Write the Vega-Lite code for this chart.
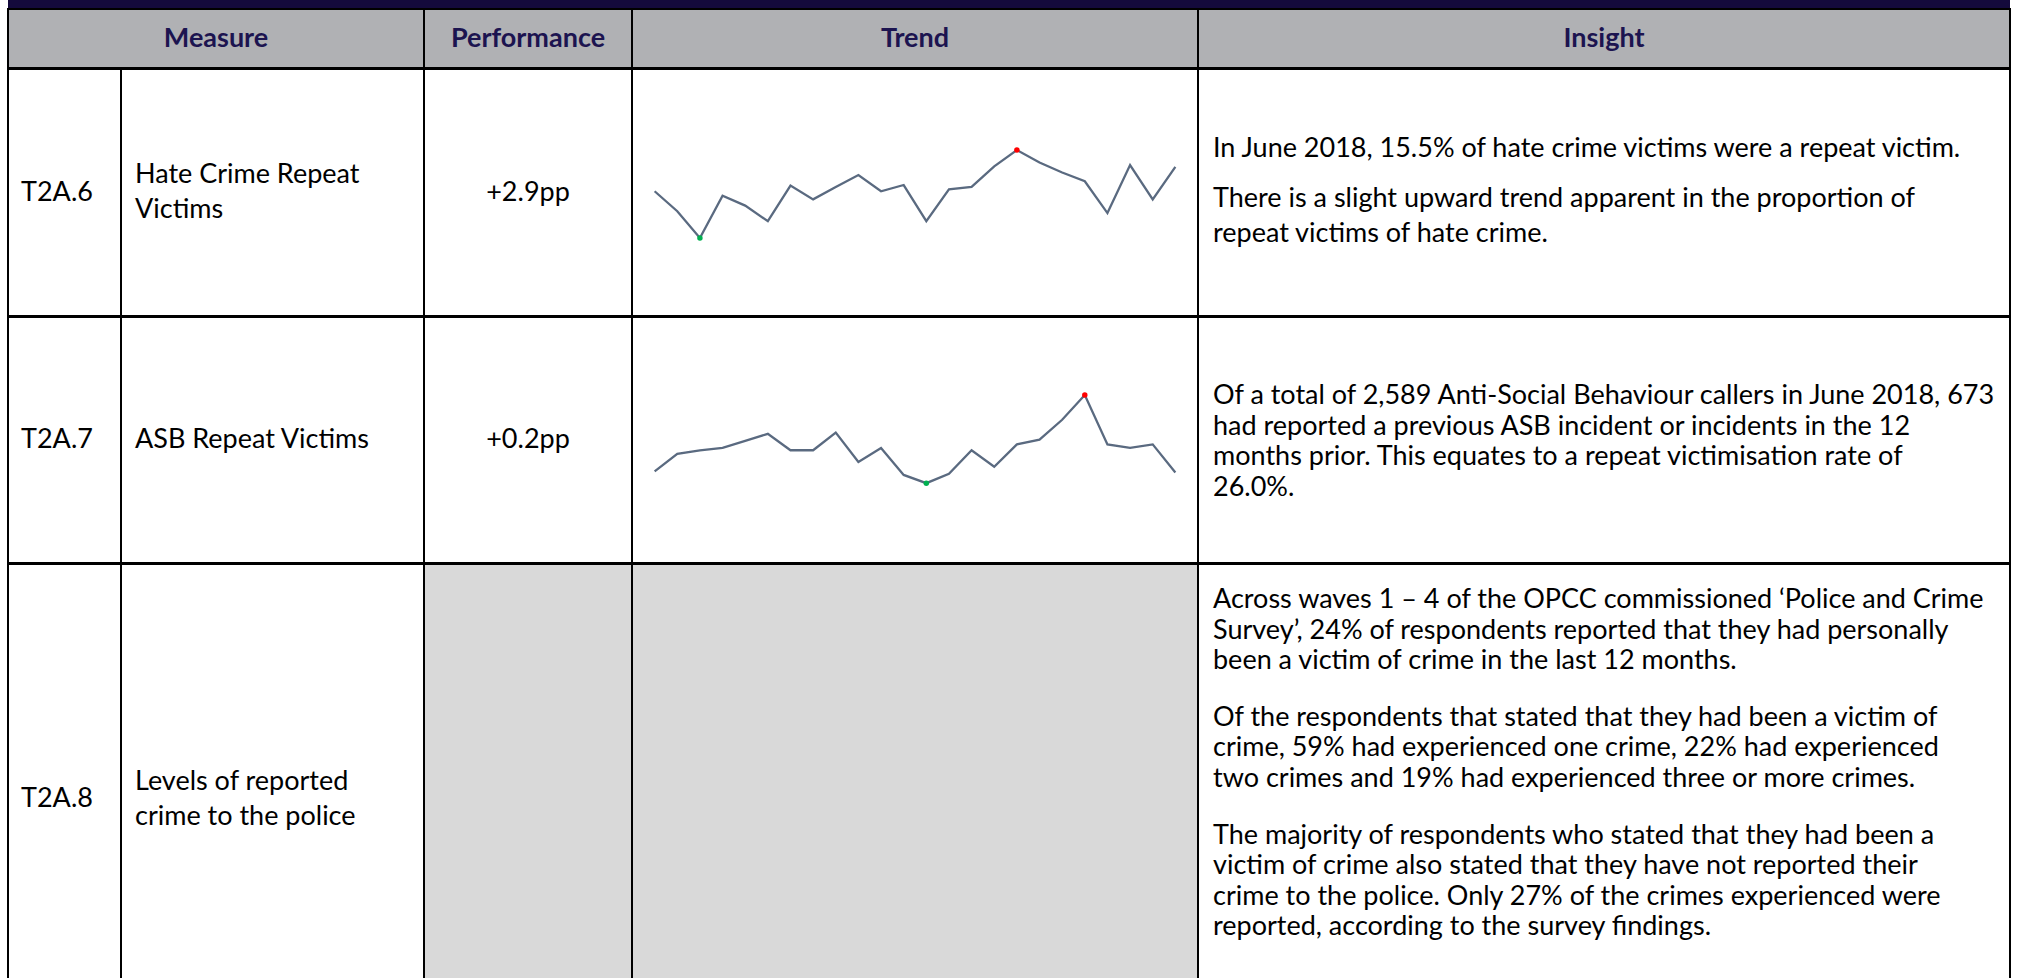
{
  "$schema": "https://vega.github.io/schema/vega-lite/v6.json",
  "background": "#ffffff",
  "padding": {"left": 7, "right": 11, "top": 0, "bottom": -53},
  "columns": 1,
  "spacing": -4,
  "align": "each",
  "config": {
    "view": {"stroke": "#000000", "strokeWidth": 2},
    "text": {"font": "Lato", "fontSize": 27, "color": "#000000"}
  },
  "datasets": {
    "hate": [
      {"month": "2016-07", "v": 11.6}, {"month": "2016-08", "v": 8.4}, {"month": "2016-09", "v": 4.1},
      {"month": "2016-10", "v": 10.9}, {"month": "2016-11", "v": 9.3}, {"month": "2016-12", "v": 6.8},
      {"month": "2017-01", "v": 12.5}, {"month": "2017-02", "v": 10.3}, {"month": "2017-03", "v": 12.3},
      {"month": "2017-04", "v": 14.2}, {"month": "2017-05", "v": 11.6}, {"month": "2017-06", "v": 12.6},
      {"month": "2017-07", "v": 6.8}, {"month": "2017-08", "v": 11.9}, {"month": "2017-09", "v": 12.3},
      {"month": "2017-10", "v": 15.6}, {"month": "2017-11", "v": 18.2}, {"month": "2017-12", "v": 16.2},
      {"month": "2018-01", "v": 14.6}, {"month": "2018-02", "v": 13.2}, {"month": "2018-03", "v": 8.1},
      {"month": "2018-04", "v": 15.8}, {"month": "2018-05", "v": 10.3}, {"month": "2018-06", "v": 15.5}
    ],
    "asb": [
      {"month": "2016-07", "v": 26.1}, {"month": "2016-08", "v": 27.6}, {"month": "2016-09", "v": 27.9},
      {"month": "2016-10", "v": 28.1}, {"month": "2016-11", "v": 28.7}, {"month": "2016-12", "v": 29.3},
      {"month": "2017-01", "v": 27.9}, {"month": "2017-02", "v": 27.9}, {"month": "2017-03", "v": 29.4},
      {"month": "2017-04", "v": 26.9}, {"month": "2017-05", "v": 28.1}, {"month": "2017-06", "v": 25.8},
      {"month": "2017-07", "v": 25.1}, {"month": "2017-08", "v": 25.9}, {"month": "2017-09", "v": 27.9},
      {"month": "2017-10", "v": 26.5}, {"month": "2017-11", "v": 28.4}, {"month": "2017-12", "v": 28.8},
      {"month": "2018-01", "v": 30.5}, {"month": "2018-02", "v": 32.6}, {"month": "2018-03", "v": 28.4},
      {"month": "2018-04", "v": 28.1}, {"month": "2018-05", "v": 28.4}, {"month": "2018-06", "v": 26.0}
    ]
  },
  "concat": [
    {"width": 2002, "height": 9, "view": {"fill": "#140a3c", "stroke": null}, "data": {"values": [{"t": ""}]},
     "mark": {"type": "text", "fontSize": 1, "baseline": "top"}, "encoding": {"text": {"field": "t", "type": "nominal"}}},
    {
      "spacing": 0, "bounds": "flush",
      "hconcat": [
        {"width": 416, "height": 59, "view": {"fill": "#b0b1b4", "stroke": "#000000", "strokeWidth": 2}, "data": {"values": [{"h": "Measure"}]},
         "mark": {"type": "text", "fontWeight": "bold", "color": "#1c1450", "baseline": "middle"},
         "encoding": {"text": {"field": "h", "type": "nominal"}}},
        {"width": 208, "height": 59, "view": {"fill": "#b0b1b4", "stroke": "#000000", "strokeWidth": 2}, "data": {"values": [{"h": "Performance"}]},
         "mark": {"type": "text", "fontWeight": "bold", "color": "#1c1450", "baseline": "middle"},
         "encoding": {"text": {"field": "h", "type": "nominal"}}},
        {"width": 566, "height": 59, "view": {"fill": "#b0b1b4", "stroke": "#000000", "strokeWidth": 2}, "data": {"values": [{"h": "Trend"}]},
         "mark": {"type": "text", "fontWeight": "bold", "color": "#1c1450", "baseline": "middle"},
         "encoding": {"text": {"field": "h", "type": "nominal"}}},
        {"width": 812, "height": 59, "view": {"fill": "#b0b1b4", "stroke": "#000000", "strokeWidth": 2}, "data": {"values": [{"h": "Insight"}]},
         "mark": {"type": "text", "fontWeight": "bold", "color": "#1c1450", "baseline": "middle"},
         "encoding": {"text": {"field": "h", "type": "nominal"}}}
      ]
    },
    {
      "spacing": 0, "bounds": "flush",
      "hconcat": [
        {"width": 113, "height": 247, "view": {"fill": "#ffffff", "stroke": "#000000", "strokeWidth": 2}, "data": {"values": [{"t": "T2A.6"}]},
         "mark": {"type": "text", "align": "left", "baseline": "middle", "dx": 13},
         "encoding": {"text": {"field": "t", "type": "nominal"},
           "x": {"datum": 0, "type": "quantitative", "scale": {"domain": [0, 1], "nice": false}, "axis": null}}},
        {"width": 303, "height": 247, "view": {"fill": "#ffffff", "stroke": "#000000", "strokeWidth": 2}, "data": {"values": [{"t": "Hate Crime Repeat\nVictims"}]},
         "mark": {"type": "text", "align": "left", "baseline": "middle", "dx": 14, "dy": -17.5, "lineBreak": "\n", "lineHeight": 35},
         "encoding": {"text": {"field": "t", "type": "nominal"},
           "x": {"datum": 0, "type": "quantitative", "scale": {"domain": [0, 1], "nice": false}, "axis": null}}},
        {"width": 208, "height": 247, "view": {"fill": "#ffffff", "stroke": "#000000", "strokeWidth": 2}, "data": {"values": [{"t": "+2.9pp"}]},
         "mark": {"type": "text", "baseline": "middle"},
         "encoding": {"text": {"field": "t", "type": "nominal"}}},
        {"width": 566, "height": 247, "view": {"fill": "#ffffff", "stroke": "#000000", "strokeWidth": 2}, "data": {"name": "hate"},
         "encoding": {
           "x": {"field": "month", "type": "ordinal", "scale": {"type": "point", "padding": 1.6}, "axis": null},
           "y": {"field": "v", "type": "quantitative", "scale": {"domain": [-8.4, 31.2], "nice": false, "zero": false}, "axis": null}
         },
         "layer": [
           {"mark": {"type": "line", "color": "#5a6a80", "strokeWidth": 2.3}},
           {"transform": [
              {"joinaggregate": [{"op": "min", "field": "v", "as": "lo"}, {"op": "max", "field": "v", "as": "hi"}]},
              {"filter": "datum.v === datum.lo || datum.v === datum.hi"}],
            "mark": {"type": "point", "filled": true, "size": 30, "opacity": 1},
            "encoding": {"color": {"condition": {"test": "datum.v === datum.lo", "value": "#00b050"}, "value": "#ff0000"}}}
         ]},
        {"width": 812, "height": 247, "view": {"fill": "#ffffff", "stroke": "#000000", "strokeWidth": 2},
         "data": {"values": [
           {"start": 1, "t": "In June 2018, 15.5% of hate crime victims were a repeat victim."},
           {"start": 2, "t": "There is a slight upward trend apparent in the proportion of\nrepeat victims of hate crime."}
         ]},
         "mark": {"type": "text", "align": "left", "baseline": "top", "dx": 15, "lineBreak": "\n", "lineHeight": 35},
         "encoding": {"text": {"field": "t", "type": "nominal"},
           "x": {"datum": 0, "type": "quantitative", "scale": {"domain": [0, 1], "nice": false}, "axis": null},
           "y": {"field": "start", "type": "quantitative", "scale": {"domain": [-0.34, 4.6], "reverse": true, "nice": false, "zero": false}, "axis": null}}}
      ]
    },
    {
      "spacing": 0, "bounds": "flush",
      "hconcat": [
        {"width": 113, "height": 246, "view": {"fill": "#ffffff", "stroke": "#000000", "strokeWidth": 2}, "data": {"values": [{"t": "T2A.7"}]},
         "mark": {"type": "text", "align": "left", "baseline": "middle", "dx": 13},
         "encoding": {"text": {"field": "t", "type": "nominal"},
           "x": {"datum": 0, "type": "quantitative", "scale": {"domain": [0, 1], "nice": false}, "axis": null}}},
        {"width": 303, "height": 246, "view": {"fill": "#ffffff", "stroke": "#000000", "strokeWidth": 2}, "data": {"values": [{"t": "ASB Repeat Victims"}]},
         "mark": {"type": "text", "align": "left", "baseline": "middle", "dx": 14},
         "encoding": {"text": {"field": "t", "type": "nominal"},
           "x": {"datum": 0, "type": "quantitative", "scale": {"domain": [0, 1], "nice": false}, "axis": null}}},
        {"width": 208, "height": 246, "view": {"fill": "#ffffff", "stroke": "#000000", "strokeWidth": 2}, "data": {"values": [{"t": "+0.2pp"}]},
         "mark": {"type": "text", "baseline": "middle"},
         "encoding": {"text": {"field": "t", "type": "nominal"}}},
        {"width": 566, "height": 246, "view": {"fill": "#ffffff", "stroke": "#000000", "strokeWidth": 2}, "data": {"name": "asb"},
         "encoding": {
           "x": {"field": "month", "type": "ordinal", "scale": {"type": "point", "padding": 1.6}, "axis": null},
           "y": {"field": "v", "type": "quantitative", "scale": {"domain": [18.3, 39.25], "nice": false, "zero": false}, "axis": null}
         },
         "layer": [
           {"mark": {"type": "line", "color": "#5a6a80", "strokeWidth": 2.3}},
           {"transform": [
              {"joinaggregate": [{"op": "min", "field": "v", "as": "lo"}, {"op": "max", "field": "v", "as": "hi"}]},
              {"filter": "datum.v === datum.lo || datum.v === datum.hi"}],
            "mark": {"type": "point", "filled": true, "size": 30, "opacity": 1},
            "encoding": {"color": {"condition": {"test": "datum.v === datum.lo", "value": "#00b050"}, "value": "#ff0000"}}}
         ]},
        {"width": 812, "height": 246, "view": {"fill": "#ffffff", "stroke": "#000000", "strokeWidth": 2},
         "data": {"values": [
           {"t": "Of a total of 2,589 Anti-Social Behaviour callers in June 2018, 673\nhad reported a previous ASB incident or incidents in the 12\nmonths prior.  This equates to a repeat victimisation rate of\n26.0%."}
         ]},
         "mark": {"type": "text", "align": "left", "baseline": "middle", "dx": 15, "dy": -44, "lineBreak": "\n", "lineHeight": 30.5},
         "encoding": {"text": {"field": "t", "type": "nominal"},
           "x": {"datum": 0, "type": "quantitative", "scale": {"domain": [0, 1], "nice": false}, "axis": null}}}
      ]
    },
    {
      "spacing": 0, "bounds": "flush",
      "hconcat": [
        {"width": 113, "height": 470, "view": {"fill": "#ffffff", "stroke": "#000000", "strokeWidth": 2}, "data": {"values": [{"t": "T2A.8"}]},
         "mark": {"type": "text", "align": "left", "baseline": "middle", "dx": 13},
         "encoding": {"text": {"field": "t", "type": "nominal"},
           "x": {"datum": 0, "type": "quantitative", "scale": {"domain": [0, 1], "nice": false}, "axis": null}}},
        {"width": 303, "height": 470, "view": {"fill": "#ffffff", "stroke": "#000000", "strokeWidth": 2}, "data": {"values": [{"t": "Levels of reported\ncrime to the police"}]},
         "mark": {"type": "text", "align": "left", "baseline": "middle", "dx": 14, "dy": -17.5, "lineBreak": "\n", "lineHeight": 35},
         "encoding": {"text": {"field": "t", "type": "nominal"},
           "x": {"datum": 0, "type": "quantitative", "scale": {"domain": [0, 1], "nice": false}, "axis": null}}},
        {"width": 208, "height": 470, "view": {"fill": "#d9d9d9", "stroke": "#000000", "strokeWidth": 2}, "data": {"values": [{"t": ""}]},
         "mark": {"type": "text"},
         "encoding": {"text": {"field": "t", "type": "nominal"}}},
        {"width": 566, "height": 470, "view": {"fill": "#d9d9d9", "stroke": "#000000", "strokeWidth": 2}, "data": {"values": [{"t": ""}]},
         "mark": {"type": "text"},
         "encoding": {"text": {"field": "t", "type": "nominal"}}},
        {"width": 812, "height": 470, "view": {"fill": "#ffffff", "stroke": "#000000", "strokeWidth": 2},
         "data": {"values": [
           {"start": 1, "t": "Across waves 1 – 4 of the OPCC commissioned ‘Police and Crime\nSurvey’, 24% of respondents reported that they had personally\nbeen a victim of crime in the last 12 months."},
           {"start": 4, "t": "Of the respondents that stated that they had been a victim of\ncrime, 59% had experienced one crime, 22% had experienced\ntwo crimes and 19% had experienced three or more crimes."},
           {"start": 7, "t": "The majority of respondents who stated that they had been a\nvictim of crime also stated that they have not reported their\ncrime to the police.  Only 27% of the crimes experienced were\nreported, according to the survey findings."}
         ]},
         "mark": {"type": "text", "align": "left", "baseline": "top", "dx": 15, "lineBreak": "\n", "lineHeight": 30.5},
         "encoding": {"text": {"field": "t", "type": "nominal"},
           "x": {"datum": 0, "type": "quantitative", "scale": {"domain": [0, 1], "nice": false}, "axis": null},
           "y": {"field": "start", "type": "quantitative", "scale": {"domain": [0.4152, 12.365], "reverse": true, "nice": false, "zero": false}, "axis": null}}}
      ]
    }
  ]
}
